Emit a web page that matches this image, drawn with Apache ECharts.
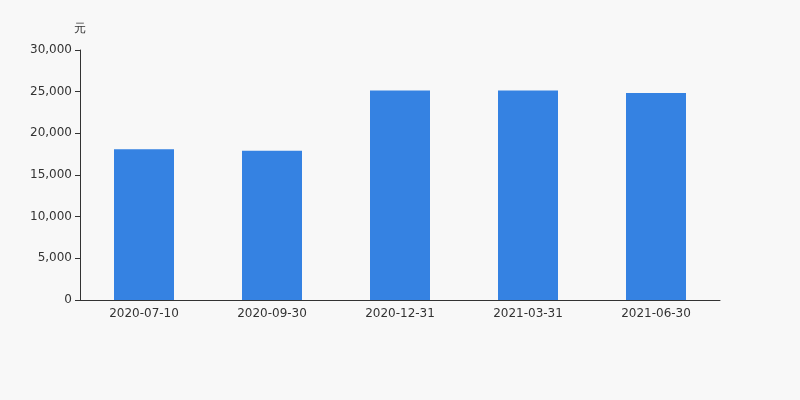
<!DOCTYPE html>
<html><head><meta charset="utf-8">
<script src="https://cdn.jsdelivr.net/npm/echarts@6/dist/echarts.min.js"></script>
<style>html,body{margin:0;padding:0;background:#f8f8f8}#c{width:800px;height:400px}</style>
</head><body><div id="c"></div>
<script>
const categories = ['2020-07-10','2020-09-30','2020-12-31','2021-03-31','2021-06-30'];
const values = [18100, 17900, 25150, 25150, 24850];
const yTicks = {min:0, max:30000, interval:5000};
const chart = echarts.init(document.getElementById('c'));
chart.setOption({
  backgroundColor:'#f8f8f8',
  textStyle:{fontFamily:'DejaVu Sans'},
  grid:{left:80,right:80,top:50,bottom:100},
  xAxis:{type:'category',data:categories,
    axisLine:{lineStyle:{color:'#333'}},axisTick:{lineStyle:{color:'#333'}},
    axisLabel:{color:'#333',fontSize:12,fontFamily:'DejaVu Sans'}},
  yAxis:{type:'value',min:yTicks.min,max:yTicks.max,interval:yTicks.interval,name:'元',
    nameTextStyle:{color:'#333',fontSize:12,align:'center'},nameGap:15,
    axisLine:{show:true,lineStyle:{color:'#333'}},axisTick:{show:true,lineStyle:{color:'#333'}},
    splitLine:{show:false},
    axisLabel:{color:'#333',fontSize:12,fontFamily:'DejaVu Sans'}},
  series:[{type:'bar',data:values,barWidth:60,itemStyle:{color:'#3582e2'},animation:false}]
});
</script></body></html>
